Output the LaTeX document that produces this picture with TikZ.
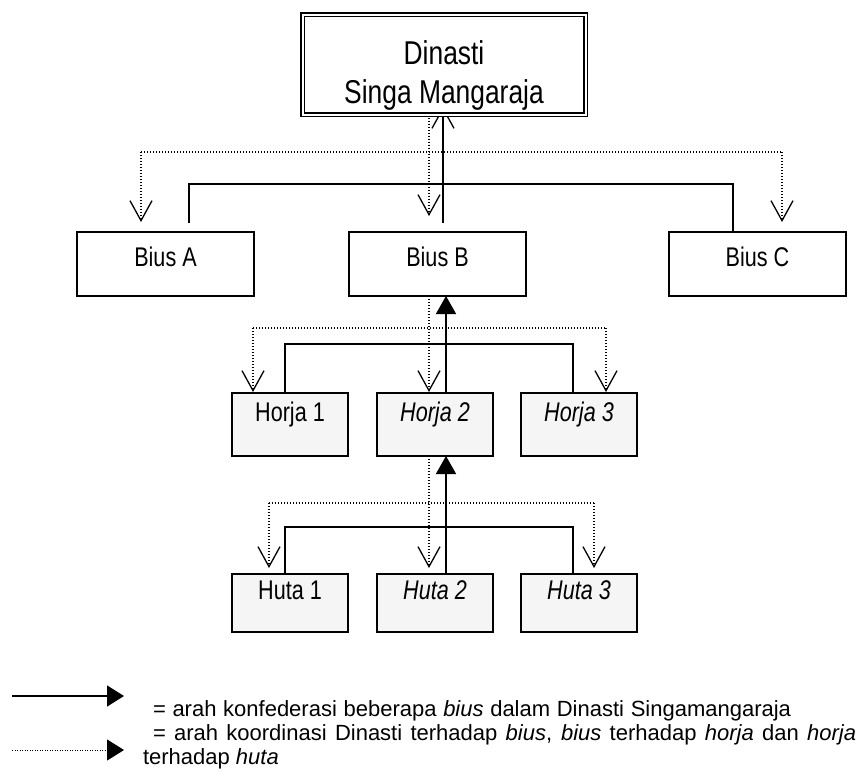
\documentclass[tikz,border=0pt]{standalone}
\usepackage{fontspec}
\setmainfont{Liberation Sans}
\newfontfamily\narrowfont{Liberation Sans}[FakeStretch=0.8]
\usetikzlibrary{arrows.meta,backgrounds,calc}
\definecolor{boxgray}{HTML}{F5F5F5}

\begin{document}
\begin{tikzpicture}[x=1pt,y=-1pt,
  every node/.style={outer sep=0pt},
  topbox/.style={draw, fill=white, line width=1.5pt, double=white, double distance=2pt,
    minimum width=283pt, minimum height=100pt, inner sep=0pt, align=center,
    font=\narrowfont\fontsize{33}{39}\selectfont},
  biusbox/.style={draw, fill=white, line width=1.3pt, minimum width=177pt, minimum height=64pt,
    inner sep=0pt, font=\narrowfont\fontsize{27}{30}\selectfont, text height=20pt, text depth=14.6pt},
  horjabox/.style={draw, fill=boxgray, line width=1.3pt, minimum width=116pt, minimum height=63pt,
    inner sep=0pt, font=\narrowfont\fontsize{27}{30}\selectfont, text height=16pt, text depth=21.6pt},
  hutabox/.style={draw, fill=boxgray, line width=1.3pt, minimum width=116pt, minimum height=58pt,
    inner sep=0pt, font=\narrowfont\fontsize{27}{30}\selectfont, text height=16pt, text depth=22.6pt},
  legendtext/.style={inner sep=0pt, anchor=base west, font=\fontsize{22}{24}\selectfont},
  coord/.style={line width=1.1pt, dash pattern=on 1.1pt off 1.9pt},
  conf/.style={line width=1.5pt},
  vtip/.style={-{Straight Barb[length=20pt,width=22pt,line width=1.3pt]}},
  tri/.style={-{Triangle[length=18pt,width=20pt]}},
]
\useasboundingbox (0,0) rectangle (859,780);

% boxes
\node[topbox] (dyn) at (444,64.5) {\rule{0pt}{45pt}Dinasti\\Singa Mangaraja};

\node[biusbox] (biusA) at (165.5,264) {Bius A};
\node[biusbox] (biusB) at (437.5,264) {Bius B};
\node[biusbox] (biusC) at (757.5,264) {Bius C};

\node[horjabox] (horja1) at (290,424.5) {Horja 1};
\node[horjabox] (horja2) at (435,424.5) {\itshape Horja 2};
\node[horjabox] (horja3) at (579,424.5) {\itshape Horja 3};

\node[hutabox] (huta1) at (290,603) {Huta 1};
\node[hutabox] (huta2) at (435,603) {\itshape Huta 2};
\node[hutabox] (huta3) at (579,603) {\itshape Huta 3};

% junction points of the branching lines
\coordinate (d1) at (141,152);  \coordinate (d2) at (782,152);  \coordinate (d3) at (429,152);
\coordinate (s1) at (189,184);  \coordinate (s2) at (733,184);  \coordinate (s3) at (443,184);
\coordinate (e1) at (253,328);  \coordinate (e2) at (606,328);  \coordinate (e3) at (429,328);
\coordinate (f1) at (285,344);  \coordinate (f2) at (573,344);  \coordinate (f3) at (446,344);
\coordinate (g1) at (269,503);  \coordinate (g2) at (594,503);  \coordinate (g3) at (429,503);
\coordinate (h1) at (285,527);  \coordinate (h2) at (573,527);  \coordinate (h3) at (446,527);

\begin{scope}[on background layer]
  % dynasty -> bius (coordination)
  \draw[coord] (d1) -- (d2);
  \draw[coord, vtip, shorten >=10pt] (d1) -- (d1 |- biusA.north);
  \draw[coord, vtip, shorten >=10pt] (d2) -- (d2 |- biusC.north);
  \draw[coord, vtip, shorten >=16pt] (dyn.south -| d3) -- (d3 |- biusB.north);
  % bius -> dynasty (confederation)
  \draw[conf] ($(s1 |- biusA.north)+(0,-9)$) -- (s1) -- (s2) -- (s2 |- biusC.north);
  \draw[conf, vtip, shorten >=-7.5pt] ($(biusB.north -| s3)+(0,-9)$) -- (s3 |- dyn.south);
\end{scope}

% bius -> horja (coordination)
\draw[coord] (e1) -- (e2);
\draw[coord, vtip, shorten >=1pt] (e1) -- (e1 |- horja1.north);
\draw[coord, vtip, shorten >=1pt] (e2) -- (e2 |- horja3.north);
\draw[coord, vtip, shorten >=1pt] (biusB.south -| e3) -- (e3 |- horja2.north);
% horja -> bius (confederation)
\draw[conf] (f1 |- horja1.north) -- (f1) -- (f2) -- (f2 |- horja3.north);
\draw[conf, tri] (horja2.north -| f3) -- (f3 |- biusB.south);

% horja -> huta (coordination)
\draw[coord] (g1) -- (g2);
\draw[coord, vtip, shorten >=6pt] (g1) -- (g1 |- huta1.north);
\draw[coord, vtip, shorten >=6pt] (g2) -- (g2 |- huta3.north);
\draw[coord, vtip, shorten >=6pt] (horja2.south -| g3) -- (g3 |- huta2.north);
% huta -> horja (confederation)
\draw[conf] (h1 |- huta1.north) -- (h1) -- (h2) -- (h2 |- huta3.north);
\draw[conf, tri] (huta2.north -| h3) -- (h3 |- horja2.south);

% legend
\coordinate (la) at (12,696);  \coordinate (lb) at (124,696);
\coordinate (lc) at (12,750);  \coordinate (ld) at (124,750);
\draw[conf, -{Triangle[length=17pt,width=21pt]}] (la) -- (lb);
\draw[line width=1pt, dash pattern=on 1pt off 1.5pt, -{Triangle[length=17pt,width=21pt]}] (lc) -- (ld);

\node[legendtext] (t1) at (153,716.5) {\makebox[638pt][s]{= arah konfederasi beberapa \textit{bius} dalam Dinasti Singamangaraja}};
\node[legendtext] (t2) at (153,740.5) {\makebox[703pt][s]{= arah koordinasi Dinasti terhadap \textit{bius}, \textit{bius} terhadap \textit{horja} dan \textit{horja}}};
\node[legendtext] (t3) at (143,764.5) {terhadap \textit{huta}};
\end{tikzpicture}
\end{document}
